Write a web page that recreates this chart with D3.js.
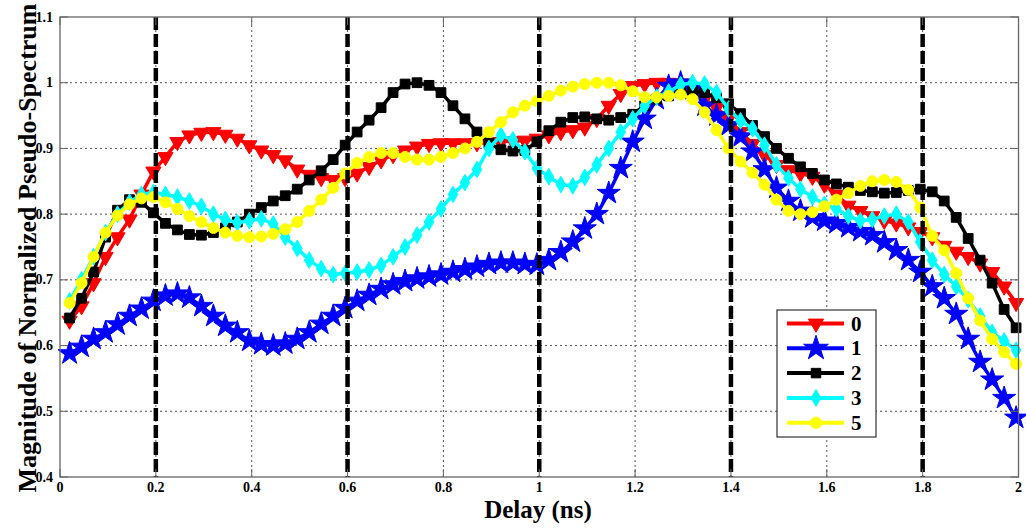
<!DOCTYPE html>
<html><head><meta charset="utf-8">
<script src="https://cdn.jsdelivr.net/npm/d3@7"></script>
<style>body{margin:0;background:#fff}svg{display:block}</style>
</head><body>
<svg id="c" width="1026" height="529"></svg>
<script>
// Delay sample grid (ns)
const delays = d3.range(80).map(i => +(0.02 + 0.025 * i).toFixed(3));
const seriesNames = ["0", "1", "2", "3", "5"];
const s0 = [0.638,0.66,0.695,0.735,0.765,0.792,0.83,0.865,0.887,0.91,
  0.92,0.924,0.925,0.921,0.915,0.905,0.897,0.89,0.882,0.868,
  0.86,0.855,0.852,0.855,0.862,0.872,0.882,0.89,0.897,0.903,
  0.907,0.908,0.908,0.908,0.908,0.909,0.91,0.911,0.912,0.915,
  0.92,0.925,0.928,0.932,0.945,0.965,0.983,0.995,0.998,1.0,
  1.0,0.999,0.99,0.975,0.962,0.945,0.925,0.907,0.89,0.875,
  0.867,0.862,0.857,0.845,0.83,0.813,0.805,0.797,0.79,0.786,
  0.78,0.773,0.765,0.752,0.743,0.735,0.725,0.712,0.69,0.665];
const s1 = [0.588,0.598,0.61,0.62,0.632,0.645,0.656,0.668,0.676,0.679,
  0.673,0.66,0.645,0.63,0.62,0.607,0.602,0.6,0.603,0.61,
  0.62,0.633,0.645,0.657,0.668,0.677,0.686,0.693,0.698,0.702,
  0.705,0.708,0.712,0.716,0.72,0.724,0.726,0.726,0.724,0.723,
  0.73,0.742,0.758,0.778,0.8,0.832,0.87,0.91,0.945,0.975,
  0.995,1.0,0.99,0.965,0.95,0.935,0.918,0.895,0.868,0.84,
  0.82,0.805,0.795,0.79,0.786,0.78,0.774,0.768,0.757,0.745,
  0.73,0.712,0.69,0.672,0.648,0.61,0.575,0.548,0.52,0.49];
const s2 = [0.642,0.672,0.712,0.765,0.806,0.822,0.818,0.802,0.786,0.776,
  0.769,0.768,0.772,0.779,0.788,0.8,0.81,0.82,0.828,0.838,
  0.852,0.866,0.883,0.905,0.925,0.943,0.962,0.985,0.998,1.0,
  0.996,0.985,0.965,0.945,0.925,0.908,0.898,0.896,0.897,0.91,
  0.927,0.94,0.947,0.948,0.945,0.943,0.947,0.952,0.965,0.975,
  0.98,0.985,0.987,0.985,0.977,0.968,0.953,0.935,0.918,0.9,
  0.885,0.872,0.862,0.852,0.846,0.841,0.836,0.834,0.832,0.833,
  0.836,0.838,0.834,0.82,0.795,0.763,0.73,0.695,0.655,0.627];
const s3 = [0.668,0.7,0.735,0.772,0.8,0.818,0.83,0.833,0.83,0.826,
  0.82,0.812,0.8,0.792,0.787,0.79,0.793,0.785,0.765,0.748,
  0.73,0.717,0.708,0.71,0.712,0.715,0.722,0.735,0.75,0.768,
  0.788,0.808,0.83,0.848,0.868,0.9,0.92,0.913,0.895,0.87,
  0.857,0.845,0.843,0.856,0.875,0.9,0.925,0.945,0.965,0.978,
  0.986,0.997,1.0,0.998,0.985,0.96,0.942,0.93,0.905,0.875,
  0.855,0.838,0.826,0.815,0.808,0.797,0.79,0.792,0.797,0.8,
  0.788,0.758,0.73,0.708,0.69,0.67,0.645,0.62,0.607,0.593];
const s5 = [0.665,0.695,0.735,0.772,0.798,0.815,0.824,0.826,0.818,0.808,
  0.797,0.788,0.779,0.772,0.767,0.765,0.766,0.77,0.777,0.788,
  0.805,0.822,0.84,0.862,0.878,0.887,0.893,0.893,0.887,0.883,
  0.883,0.887,0.893,0.9,0.91,0.925,0.94,0.955,0.965,0.972,
  0.98,0.988,0.994,0.998,1.0,1.0,0.996,0.987,0.978,0.978,
  0.98,0.982,0.975,0.955,0.928,0.9,0.88,0.863,0.845,0.822,
  0.805,0.8,0.803,0.812,0.822,0.832,0.843,0.85,0.852,0.849,
  0.837,0.81,0.767,0.745,0.71,0.672,0.638,0.61,0.59,0.572];
const xTicks = [0,0.2,0.4,0.6,0.8,1,1.2,1.4,1.6,1.8,2];
const yTicks = [0.4,0.5,0.6,0.7,0.8,0.9,1,1.1];
const markerLines = [0.2,0.6,1.0,1.4,1.8];
const colors = ["#ff0000","#0000ff","#000000","#00ffff","#ffff00"];

const svg = d3.select("#c");
const x = d3.scaleLinear().domain([0,2]).range([60,1018.5]);
const y = d3.scaleLinear().domain([0.4,1.1]).range([477,17]);
const serif = "'Liberation Serif','Times New Roman',serif";

// grid
const g = svg.append("g");
g.selectAll(".gx").data(xTicks.filter(t => t>0 && t<2)).join("line")
  .attr("x1", d=>x(d)).attr("x2", d=>x(d)).attr("y1", y(0.4)).attr("y2", y(1.1))
  .attr("stroke","#555").attr("stroke-width",1).attr("stroke-dasharray","2,3");
g.selectAll(".gy").data(yTicks.filter(t => t>0.4 && t<1.1)).join("line")
  .attr("y1", d=>y(d)).attr("y2", d=>y(d)).attr("x1", x(0)).attr("x2", x(2))
  .attr("stroke","#555").attr("stroke-width",1).attr("stroke-dasharray","2,3");

// series
const symbols = [
  {type:d3.symbolTriangle, size:100, rot:180},
  {type:d3.symbolStar, size:165, rot:0},
  {type:d3.symbolSquare, size:95, rot:0},
  {type:d3.symbolDiamond, size:80, rot:0},
  {type:d3.symbolCircle, size:95, rot:0}
];
const allSeries = [s0,s1,s2,s3,s5];
const line = d3.line().x((d,i)=>x(delays[i])).y(d=>y(d));
allSeries.forEach((vals, k) => {
  const sg = svg.append("g");
  sg.append("path").datum(vals).attr("d", line).attr("fill","none")
    .attr("stroke", colors[k]).attr("stroke-width", 3.5).attr("stroke-linejoin","round");
  const sym = d3.symbol().type(symbols[k].type).size(symbols[k].size);
  sg.selectAll("path.m").data(vals).join("path").attr("class","m")
    .attr("d", sym)
    .attr("transform", (d,i)=>`translate(${x(delays[i])},${y(d)}) rotate(${symbols[k].rot})`)
    .attr("fill", colors[k]).attr("stroke", colors[k]).attr("stroke-width", 1);
});

// vertical dashed lines
svg.selectAll(".vd").data(markerLines).join("line")
  .attr("x1", d=>x(d)).attr("x2", d=>x(d)).attr("y1", y(1.1)).attr("y2", y(0.4))
  .attr("stroke","#000").attr("stroke-width",4.5).attr("stroke-dasharray","13,4");

// axes box
const ax = svg.append("g");
ax.append("rect").attr("x", x(0)).attr("y", y(1.1)).attr("width", x(2)-x(0)).attr("height", y(0.4)-y(1.1))
  .attr("fill","none").attr("stroke","#666").attr("stroke-width",1.3);
// inner ticks
ax.selectAll(".tx").data(xTicks).join("line")
  .attr("x1", d=>x(d)).attr("x2", d=>x(d)).attr("y1", y(0.4)).attr("y2", y(0.4)-8).attr("stroke","#666");
ax.selectAll(".tx2").data(xTicks).join("line")
  .attr("x1", d=>x(d)).attr("x2", d=>x(d)).attr("y1", y(1.1)).attr("y2", y(1.1)+8).attr("stroke","#666");
ax.selectAll(".ty").data(yTicks).join("line")
  .attr("y1", d=>y(d)).attr("y2", d=>y(d)).attr("x1", x(0)).attr("x2", x(0)+8).attr("stroke","#666");
ax.selectAll(".ty2").data(yTicks).join("line")
  .attr("y1", d=>y(d)).attr("y2", d=>y(d)).attr("x1", x(2)).attr("x2", x(2)-8).attr("stroke","#666");

// tick labels
const fmt = d => String(+d.toFixed(1));
ax.selectAll(".xl").data(xTicks).join("text")
  .attr("x", d=>x(d)).attr("y", 492).attr("text-anchor","middle")
  .attr("font-family", serif).attr("font-weight","bold").attr("font-size",14).attr("fill","#000")
  .text(fmt);
ax.selectAll(".yl").data(yTicks).join("text")
  .attr("x", 53).attr("y", d=>y(d)+4.5).attr("text-anchor","end")
  .attr("font-family", serif).attr("font-weight","bold").attr("font-size",14).attr("fill","#000")
  .text(fmt);

// axis titles
svg.append("text").attr("x", 538).attr("y", 518).attr("text-anchor","middle")
  .attr("font-family", serif).attr("font-weight","bold").attr("font-size",25).text("Delay (ns)");
svg.append("text").attr("transform","translate(36,248) rotate(-90)").attr("text-anchor","middle")
  .attr("font-family", serif).attr("font-weight","bold").attr("font-size",26)
  .text("Magnitude of Normalized Pseudo-Spectrum");

// legend
const lg = svg.append("g");
lg.append("rect").attr("x",777).attr("y",310).attr("width",99).attr("height",127)
  .attr("fill","#fff").attr("stroke","#333").attr("stroke-width",1.2);
const legSizes = [100,190,90,80,100];
seriesNames.forEach((name,k) => {
  const yy = 323.5 + k*24.8;
  lg.append("line").attr("x1",787).attr("x2",844).attr("y1",yy).attr("y2",yy)
    .attr("stroke",colors[k]).attr("stroke-width",4);
  lg.append("path").attr("d", d3.symbol().type(symbols[k].type).size(legSizes[k]))
    .attr("transform",`translate(816,${yy}) rotate(${symbols[k].rot})`)
    .attr("fill",colors[k]).attr("stroke",colors[k]);
  lg.append("text").attr("x",851).attr("y",yy+7).attr("font-family",serif)
    .attr("font-weight","bold").attr("font-size",21).text(name);
});
</script>
</body></html>
